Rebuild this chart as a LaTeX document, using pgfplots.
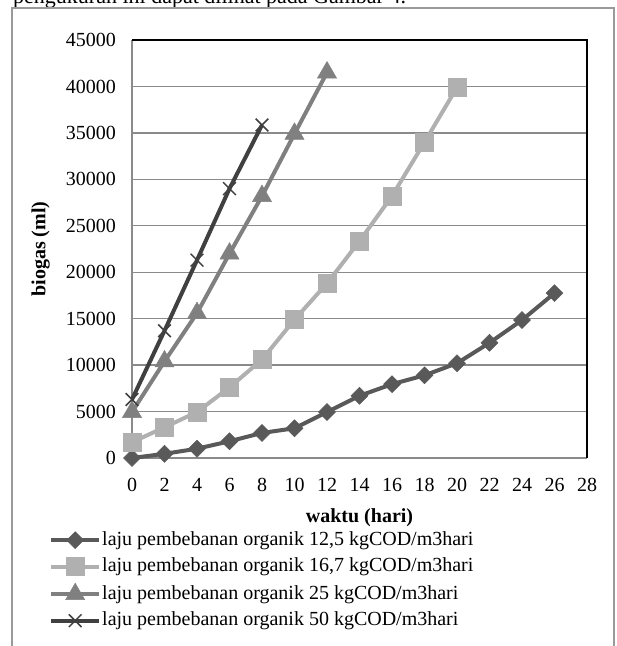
\documentclass[border=0pt]{standalone}
\usepackage{fontspec}
\setmainfont{Liberation Serif}
\usepackage{pgfplots}
\pgfplotsset{compat=1.18}
\definecolor{sA}{HTML}{595959}
\definecolor{sB}{HTML}{B0B0B0}
\definecolor{sC}{HTML}{808080}
\definecolor{sD}{HTML}{404040}
\definecolor{gridc}{HTML}{8A8A8A}
\definecolor{framec}{HTML}{9A9A9A}
\begin{document}
\fontsize{20bp}{24bp}\selectfont
\begin{tikzpicture}
\useasboundingbox (0,0) rectangle (617bp,-646bp);
\begin{scope}
\clip (0,0) rectangle (617bp,-646bp);
\node[anchor=base west, inner sep=0pt, font=\fontsize{22bp}{26bp}\selectfont] at (13bp,-3bp) {pengukuran ini dapat dilihat pada Gambar 4.};
\end{scope}
\draw[framec, line width=1.5bp] (12bp,-646bp) -- (12bp,-8bp) -- (614bp,-8bp) -- (614bp,-646bp);
\begin{axis}[
  at={(132bp,-458bp)}, anchor=south west,
  scale only axis, width=455bp, height=418bp,
  xmin=0, xmax=28, ymin=0, ymax=45000,
  xtick={0,2,...,28}, ytick={0,5000,...,45000},
  ymajorgrids, major grid style={color=gridc, line width=1.3bp},
  tick style={draw=none}, axis line style={draw=none},
  scaled y ticks=false,
  /pgf/number format/assume math mode=true,
  yticklabel style={/pgf/number format/fixed, /pgf/number format/1000 sep={}, anchor=east, inner sep=0pt, xshift=-16bp},
  xticklabel style={anchor=north, inner sep=0pt, yshift=-20bp},
  ticklabel style={font=\fontsize{20bp}{24bp}\selectfont},
  xlabel={\textbf{waktu (hari)}},
  ylabel={\textbf{biogas (ml)}},
  xlabel style={at={(axis description cs:0.5,-0.1435)}, anchor=center, font=\fontsize{20bp}{24bp}\selectfont},
  ylabel style={at={(axis description cs:-0.2007,0.5)}, anchor=center, font=\fontsize{20bp}{24bp}\selectfont},
  clip=false,
  legend style={at={(axis description cs:-0.1824,-0.1722)}, anchor=north west, draw=none, fill=none,
    font=\fontsize{20bp}{24bp}\selectfont, row sep=6.5bp, inner sep=0pt,
    nodes={inner ysep=0pt, inner xsep=1bp, text height=15bp, text depth=5bp}},
  legend cell align=left,
  legend image code/.code={\draw[#1, mark repeat=2, mark phase=2] plot coordinates {(0bp,0bp) (24bp,0bp) (48bp,0bp)};},
]
\draw[gridc, line width=2bp] (rel axis cs:0,1) -- (rel axis cs:0,0) -- (rel axis cs:1,0);
\draw[black, line width=1.2bp] (rel axis cs:0,1) -- (rel axis cs:1,1) -- (rel axis cs:1,0);
\addplot[sA, line width=4bp, mark=square*, mark size=6bp, mark options={rotate=45, solid, line width=0.5bp}]
 coordinates {(0,0) (2,450) (4,1000) (6,1800) (8,2700) (10,3200) (12,4950) (14,6700) (16,7950) (18,8900) (20,10200) (22,12400) (24,14850) (26,17750)};
\addlegendentry{laju pembebanan organik 12,5 kgCOD/m3hari}
\addplot[sB, line width=4bp, mark=square*, mark size=9bp, mark options={solid, line width=0.5bp}]
 coordinates {(0,1700) (2,3300) (4,4950) (6,7600) (8,10600) (10,14900) (12,18800) (14,23350) (16,28200) (18,34000) (20,39900)};
\addlegendentry{laju pembebanan organik 16,7 kgCOD/m3hari}
\addplot[sC, line width=4bp, mark=triangle*, mark size=11bp, mark options={solid, line width=0.5bp}]
 coordinates {(0,4950) (2,10400) (4,15600) (6,22000) (8,28200) (10,34900) (12,41500)};
\addlegendentry{laju pembebanan organik 25 kgCOD/m3hari}
\addplot[sD, line width=4bp, mark=x, mark size=9bp, mark options={solid, line width=1.5bp}]
 coordinates {(0,6300) (2,13700) (4,21300) (6,29000) (8,35850)};
\addlegendentry{laju pembebanan organik 50 kgCOD/m3hari}
\end{axis}
\end{tikzpicture}
\end{document}
